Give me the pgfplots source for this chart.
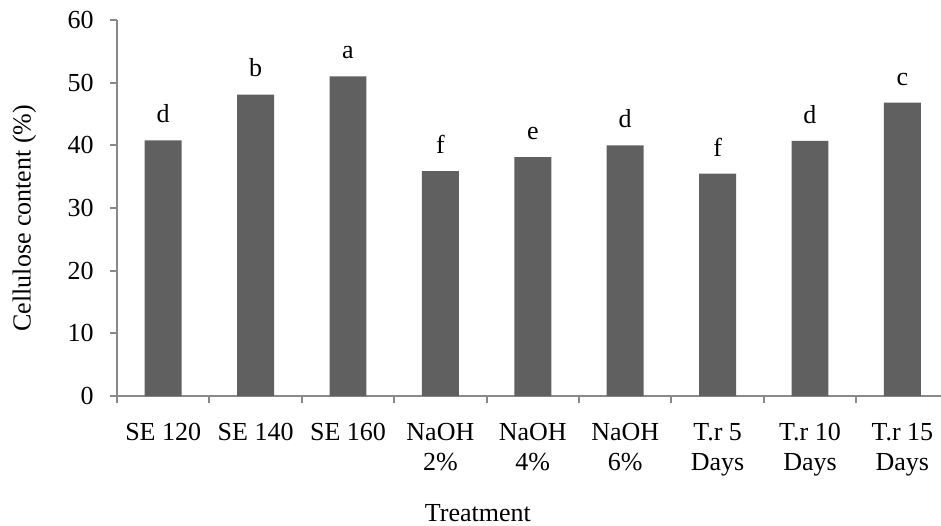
\documentclass[border=0pt]{standalone}
\usepackage{fontspec}
\setmainfont{Liberation Serif}
\usepackage{pgfplots}
\pgfplotsset{compat=1.18}
\definecolor{barc}{HTML}{606060}
\definecolor{axc}{HTML}{898989}
\begin{document}
\fontsize{13pt}{15pt}\selectfont
\begin{tikzpicture}
\begin{axis}[
 scale only axis, width=412pt, height=188pt,
 at={(0,0)}, anchor=south west,
 xmin=-0.5, xmax=8.418, ymin=0, ymax=60,
 axis x line*=bottom, axis y line*=left,
 axis line style={axc, line width=1pt, -},
 tick style={axc, line width=1pt},
 tick align=outside,
 major tick length=3.5pt,
 /pgf/number format/assume math mode=true,
 ytick={0,10,...,60},
 yticklabel style={font=\fontsize{13pt}{15pt}\selectfont, inner sep=0pt, xshift=-8pt},
 xtick={-0.5,0.5,...,7.5},
 xticklabels={},
 extra x ticks={0,1,2,3,4,5,6,7,8},
 extra x tick labels={SE 120, SE 140, SE 160, {NaOH\\2\%}, {NaOH\\4\%}, {NaOH\\6\%}, {T.r 5\\Days}, {T.r 10\\Days}, {T.r 15\\Days}},
 extra x tick style={major tick length=0pt, xticklabel style={align=center, anchor=north, inner sep=0pt, yshift=-13.5pt, font=\fontsize{13pt}{15pt}\selectfont}},
 ybar, bar width=0.4,
 xlabel={Treatment},
 xlabel style={at={(axis description cs:0.438,0)}, anchor=base, yshift=-62.5pt, font=\fontsize{13pt}{15pt}\selectfont},
 ylabel={Cellulose content (\%)},
 ylabel style={at={(axis description cs:-0.1125,0.473)}, rotate=0, anchor=center, font=\fontsize{13pt}{15pt}\selectfont},
 nodes near coords,
 point meta=explicit symbolic,
 nodes near coords style={anchor=south, inner sep=0pt, yshift=8.5pt, text=black, font=\fontsize{13pt}{15pt}\selectfont},
]
\addplot[fill=barc, draw=none] coordinates {
 (0,40.8) [d]
 (1,48.1) [b]
 (2,51.0) [a]
 (3,35.9) [f]
 (4,38.1) [e]
 (5,40.0) [d]
 (6,35.5) [f]
 (7,40.7) [d]
 (8,46.8) [c]
};
\end{axis}
\pgfresetboundingbox
\path (-58.5pt,-64.5pt) rectangle (412pt,198pt);
\end{tikzpicture}
\end{document}
